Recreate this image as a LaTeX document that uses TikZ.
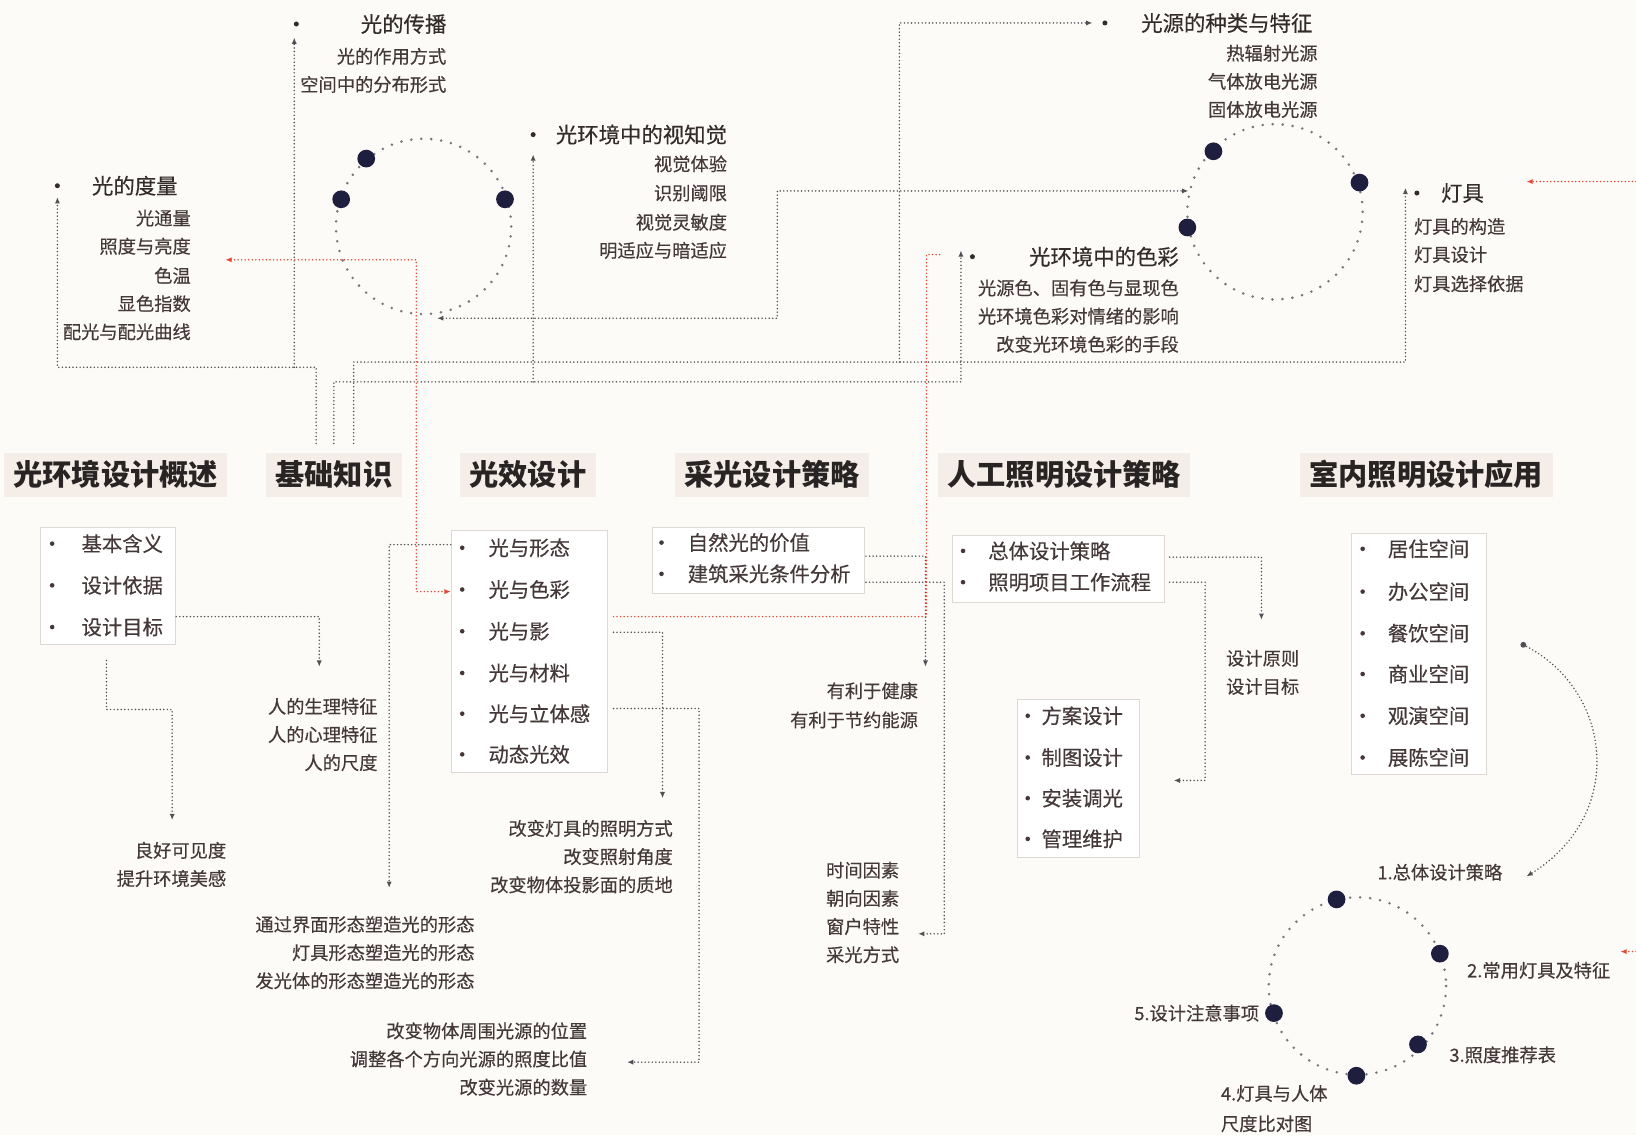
\documentclass[tikz,border=0pt]{standalone}
\usepackage{fontspec}
\setmainfont{Noto Sans CJK SC}
\newfontfamily\medf{Noto Sans CJK SC}[FakeBold=0.35]
\usetikzlibrary{arrows.meta}
\definecolor{bgc}{RGB}{252,251,247}
\definecolor{headbg}{RGB}{245,238,232}
\definecolor{headtxt}{RGB}{40,36,36}
\definecolor{titletxt}{RGB}{52,44,44}
\definecolor{itemtxt}{RGB}{68,56,56}
\definecolor{linec}{RGB}{80,80,86}
\definecolor{redc}{RGB}{228,72,52}
\definecolor{navy}{RGB}{30,30,62}
\definecolor{boxc}{RGB}{222,216,210}
\definecolor{circc}{RGB}{118,118,126}
\tikzset{
 head/.style={fill=headbg, text=headtxt, font=\bfseries\fontsize{28}{30}\selectfont, inner xsep=9pt, inner ysep=0pt, minimum height=42pt},
 ttl/.style={text=titletxt, font=\medf\fontsize{20.5}{24}\selectfont, inner sep=0pt},
 itm/.style={text=itemtxt, font=\medf\fontsize{17.5}{20}\selectfont, inner sep=0pt},
 bitm/.style={text=itemtxt, font=\medf\fontsize{19.5}{22}\selectfont, inner sep=0pt, anchor=west},
 lbox/.style={draw=boxc, line width=0.9pt, fill=white, inner sep=0pt, anchor=north west},
 bul/.style={circle, fill=itemtxt, minimum size=4.4pt, inner sep=0pt},
 sdot/.style={circle, fill=titletxt, minimum size=4.8pt, inner sep=0pt},
 bigdot/.style={circle, fill=navy, minimum size=17pt, inner sep=0pt},
 link/.style={draw=linec, line width=1.6pt, line cap=round, dash pattern=on 0pt off 3.4pt},
 rlink/.style={link, draw=redc},
 tip/.style={-{Latex[length=6pt,width=5pt]}},
 tips/.style={{Latex[length=6pt,width=5pt]}-{Latex[length=6pt,width=5pt]}},
 circ/.style={draw=circc, line width=2.7pt, line cap=round, dash pattern=on 0pt off 9.6pt}
}
\begin{document}
\begin{tikzpicture}[x=1pt,y=-1pt]
\fill[bgc] (0,0) rectangle (1568,1088);
\useasboundingbox (0,0) rectangle (1568,1088);

% ---------- headings ----------
\node[head] (h1) at (111,455) {光环境设计概述};
\node[head] (h2) at (320,455) {基础知识};
\node[head] (h3) at (506,455) {光效设计};
\node[head] (h4) at (740,455) {采光设计策略};
\node[head] (h5) at (1020,455) {人工照明设计策略};
\node[head] (h6) at (1367,455) {室内照明设计应用};

% ---------- boxes ----------
\node[lbox, minimum width=130pt, minimum height=112pt] (bx1) at (38,505) {};
\node[lbox, minimum width=150pt, minimum height=232pt] (bx3) at (432,508) {};
\node[lbox, minimum width=203pt, minimum height=63pt] (bx4) at (625,505) {};
\node[lbox, minimum width=204pt, minimum height=64pt] (bx5) at (912,513) {};
\node[lbox, minimum width=117pt, minimum height=151pt] (bx5b) at (975,670) {};
\node[lbox, minimum width=129pt, minimum height=231pt] (bx6) at (1295,511) {};

\foreach \t/\yy [count=\i] in {基本含义/521, 设计依据/561, 设计目标/601} {
  \node[bul] (b1d\i) at (50,\yy) {};
  \node[bitm] (b1t\i) at (78,\yy) {\t};
}
\foreach \t/\yy [count=\i] in {光与形态/525, 光与色彩/565, 光与影/605, 光与材料/645, 光与立体感/684, 动态光效/723} {
  \node[bul] (b3d\i) at (443,\yy) {};
  \node[bitm] (b3t\i) at (468,\yy) {\t};
}
\foreach \t/\yy [count=\i] in {自然光的价值/520, 建筑采光条件分析/550} {
  \node[bul] (b4d\i) at (634,\yy) {};
  \node[bitm] (b4t\i) at (659,\yy) {\t};
}
\foreach \t/\yy [count=\i] in {总体设计策略/528, 照明项目工作流程/558} {
  \node[bul] (b5d\i) at (923,\yy) {};
  \node[bitm] (b5t\i) at (947,\yy) {\t};
}
\foreach \t/\yy [count=\i] in {方案设计/686, 制图设计/726, 安装调光/765, 管理维护/804} {
  \node[bul] (b5bd\i) at (985,\yy) {};
  \node[bitm] (b5bt\i) at (998,\yy) {\t};
}
\foreach \t/\yy [count=\i] in {居住空间/526, 办公空间/567, 餐饮空间/607, 商业空间/646, 观演空间/686, 展陈空间/726} {
  \node[bul] (b6d\i) at (1306,\yy) {};
  \node[bitm] (b6t\i) at (1330,\yy) {\t};
}

% ---------- top groups ----------
\node[sdot] (dlD) at (55,178) {};
\node[ttl, anchor=west] (dlT) at (88,178) {光的度量};
\foreach \t/\yy [count=\i] in {光通量/209, 照度与亮度/236, 色温/264, 显色指数/291, 配光与配光曲线/318}
  \node[itm, anchor=east] (dl\i) at (183,\yy) {\t};
\node[sdot] (cbD) at (284,23) {};
\node[ttl, anchor=east] (cbT) at (428,23) {光的传播};
\node[itm, anchor=east] (cb1) at (428,54) {光的作用方式};
\node[itm, anchor=east] (cb2) at (428,81) {空间中的分布形式};
\node[sdot] (sjD) at (511,129) {};
\node[ttl, anchor=east] (sjT) at (697,129) {光环境中的视知觉};
\foreach \t/\yy [count=\i] in {视觉体验/157, 识别阈限/185, 视觉灵敏度/213, 明适应与暗适应/240}
  \node[itm, anchor=east] (sj\i) at (697,\yy) {\t};
\node[sdot] (scD) at (932,246) {};
\node[ttl, anchor=east] (scT) at (1130,246) {光环境中的色彩};
\foreach \t/\yy [count=\i] in {光源色、固有色与显现色/276, 光环境色彩对情绪的影响/303, 改变光环境色彩的手段/330}
  \node[itm, anchor=east] (sc\i) at (1130,\yy) {\t};
\node[sdot] (gyD) at (1059,22) {};
\node[ttl, anchor=east] (gyT) at (1258,22) {光源的种类与特征};
\foreach \t/\yy [count=\i] in {热辐射光源/51, 气体放电光源/78, 固体放电光源/105}
  \node[itm, anchor=east] (gy\i) at (1263,\yy) {\t};
\node[sdot] (djD) at (1358,185) {};
\node[ttl, anchor=west] (djT) at (1381,185) {灯具};
\foreach \t/\yy [count=\i] in {灯具的构造/217, 灯具设计/244, 灯具选择依据/272}
  \node[itm, anchor=west] (dj\i) at (1355,\yy) {\t};

% ---------- circles ----------
\coordinate (c1) at (406,217);
\coordinate (c2) at (1222,203);
\coordinate (c3) at (1301,945);
\draw[circ] (c1) circle[radius=84];
\draw[circ] (c2) circle[radius=84];
\draw[circ] (c3) circle[radius=85];
\node[bigdot] (c1a) at (351,152) {};
\node[bigdot] (c1b) at (327,191) {};
\node[bigdot] (c1c) at (484,191) {};
\node[bigdot] (c2a) at (1163,145) {};
\node[bigdot] (c2b) at (1303,175) {};
\node[bigdot] (c2c) at (1138,218) {};
\node[bigdot] (c3a) at (1281,862) {};
\node[bigdot] (c3b) at (1380,914) {};
\node[bigdot] (c3c) at (1221,971) {};
\node[bigdot] (c3d) at (1359,1001) {};
\node[bigdot] (c3e) at (1300,1031) {};
\node[itm, anchor=west] (l1) at (1320,836) {1.总体设计策略};
\node[itm, anchor=west] (l2) at (1406,930) {2.常用灯具及特征};
\node[itm, anchor=east] (l5) at (1207,971) {5.设计注意事项};
\node[itm, anchor=west] (l3) at (1389,1011) {3.照度推荐表};
\node[itm, anchor=west] (l4) at (1170,1048) {4.灯具与人体};
\node[itm, anchor=west] (l4b) at (1170,1077) {尺度比对图};

% ---------- lower text groups ----------
\foreach \t/\yy [count=\i] in {人的生理特征/677, 人的心理特征/704, 人的尺度/731}
  \node[itm, anchor=east] (rd\i) at (362,\yy) {\t};
\foreach \t/\yy [count=\i] in {良好可见度/815, 提升环境美感/842}
  \node[itm, anchor=east] (lh\i) at (217,\yy) {\t};
\foreach \t/\yy [count=\i] in {通过界面形态塑造光的形态/886, 灯具形态塑造光的形态/913, 发光体的形态塑造光的形态/940}
  \node[itm, anchor=east] (tg\i) at (455,\yy) {\t};
\foreach \t/\yy [count=\i] in {改变灯具的照明方式/794, 改变照射角度/821, 改变物体投影面的质地/848}
  \node[itm, anchor=east] (gd\i) at (645,\yy) {\t};
\foreach \t/\yy [count=\i] in {改变物体周围光源的位置/988, 调整各个方向光源的照度比值/1015, 改变光源的数量/1042}
  \node[itm, anchor=east] (gw\i) at (563,\yy) {\t};
\foreach \t/\yy [count=\i] in {有利于健康/662, 有利于节约能源/690}
  \node[itm, anchor=east] (yl\i) at (880,\yy) {\t};
\foreach \t/\yy [count=\i] in {时间因素/834, 朝向因素/861, 窗户特性/888, 采光方式/915}
  \node[itm, anchor=east] (sy\i) at (862,\yy) {\t};
\foreach \t/\yy [count=\i] in {设计原则/631, 设计目标/658}
  \node[itm, anchor=west] (yz\i) at (1175,\yy) {\t};

% ---------- connector end points ----------
\coordinate (hA) at (303,425);
\coordinate (hB) at (320,425);
\coordinate (hC) at (339,425);
\coordinate (dlA) at (55,189);
\coordinate (cbA) at (282,36);
\coordinate (sjA) at (511,148);
\coordinate (scA) at (921,240);
\coordinate (djA) at (1347,180);
\coordinate (gyA) at (1047,22);
\coordinate (c1A) at (419,305);
\coordinate (c2A) at (1139,183);

% ---------- black connectors ----------
\draw[link,tip] (hA) -- (303,352) -| (dlA);
\draw[link,tip] (282,352) -- (cbA);
\draw[link,tip] (hB) -- (320,366) -| (scA);
\draw[link,tip] (511,366) -- (sjA);
\draw[link,tip] (hC) -- (339,347) -| (djA);
\draw[link,tip] (862,347) |- (gyA);
\draw[link,tips] (c1A) -- (745,305) |- (c2A);

\draw[link,tip] (bx1.east |- 0,591) -| (306,639);
\draw[link,tip] (102,633) |- (165,680) -- (165,786);
\draw[link,tip] (bx3.west |- 0,522) -- (373,522) -- (373,851);
\draw[link,tip] (588,606) -| (635,765);
\draw[link,tip] (588,679) -- (670,679) |- (601,1018);
\draw[link,tip] (830,533) -| (887,639);
\draw[link,tip] (830,558) -- (905,558) |- (880,895);
\draw[link,tip] (1121,534) -| (1209,594);
\draw[link,tip] (1121,558) -- (1155,558) |- (1125,748);
\draw[link,tip] (1460,618) .. controls (1545,660) and (1560,780) .. (1463,840);
\fill[linec] (1460,618) circle[radius=2.8];

% ---------- red connectors ----------
\draw[rlink,tips] (216,249) -- (399,249) |- (bx3.west |- 0,567);
\draw[rlink] (588,591) -- (888,591) -- (888,244) -- (901,244);
\draw[rlink,tip] (1568,174) -- (1463,174);
\draw[rlink,tip] (1568,912) -- (1553,912);
\end{tikzpicture}
\end{document}
